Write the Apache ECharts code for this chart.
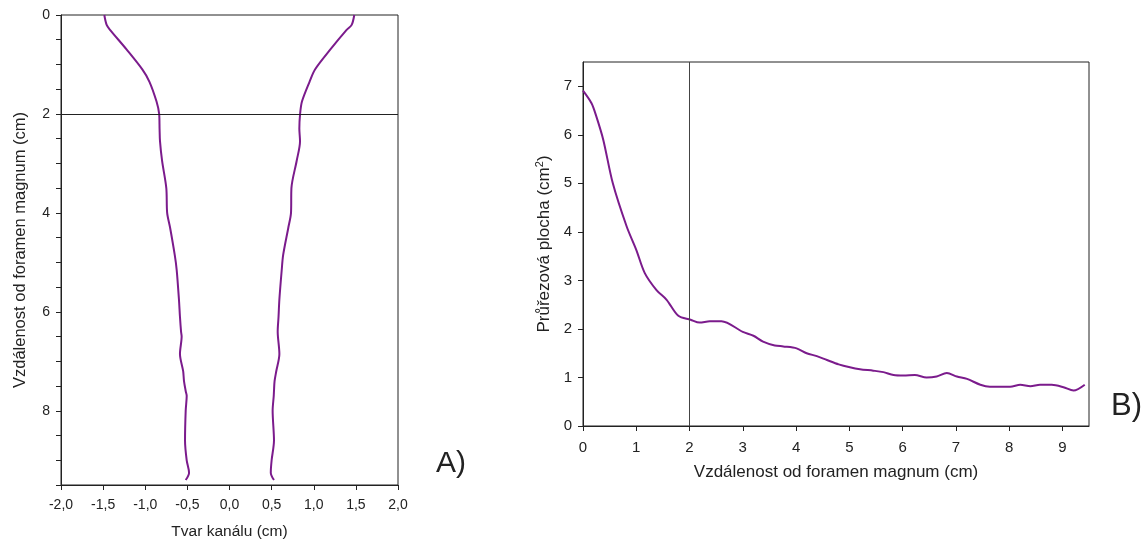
<!DOCTYPE html>
<html>
<head>
<meta charset="utf-8">
<script src="https://cdn.jsdelivr.net/npm/echarts@6/dist/echarts.min.js"></script>
<style>
  html, body { margin: 0; padding: 0; background: #fff; }
  #chart { width: 1147px; height: 540px; }
</style>
</head>
<body>
<div id="chart"></div>
<script>
// A) tvar kanálu - hloubka (cm) a levý / pravý okraj (cm)
var depthA = [0, 0.2, 0.3, 0.7, 1.1, 1.35, 1.75, 2.0, 2.3, 2.55, 2.95, 3.5, 4.0, 4.3, 4.85, 5.15, 5.75, 6.1, 6.4, 6.5, 6.85, 7.2, 7.4, 7.6, 7.7, 8.0, 8.6, 9.0, 9.25, 9.4];
var leftA = [-1.486, -1.458, -1.418, -1.22, -1.035, -0.95, -0.866, -0.835, -0.83, -0.825, -0.8, -0.75, -0.74, -0.705, -0.65, -0.627, -0.6, -0.588, -0.575, -0.568, -0.588, -0.55, -0.54, -0.52, -0.508, -0.52, -0.528, -0.508, -0.48, -0.52];
var rightA = [1.481, 1.45, 1.39, 1.195, 1.015, 0.95, 0.86, 0.838, 0.829, 0.837, 0.797, 0.735, 0.73, 0.698, 0.637, 0.62, 0.592, 0.582, 0.572, 0.575, 0.592, 0.555, 0.535, 0.528, 0.525, 0.512, 0.528, 0.5, 0.49, 0.528];

// B) průřezová plocha podle vzdálenosti
var distB = [0, 0.16, 0.25, 0.38, 0.56, 0.82, 1.0, 1.16, 1.38, 1.57, 1.79, 2.02, 2.19, 2.38, 2.6, 3.0, 3.2, 3.38, 3.6, 3.76, 4.01, 4.2, 4.39, 4.58, 4.8, 5.01, 5.2, 5.45, 5.64, 5.83, 6.02, 6.23, 6.45, 6.64, 6.83, 7.02, 7.21, 7.46, 7.64, 8.02, 8.21, 8.4, 8.58, 8.8, 9.02, 9.21, 9.42];
var areaB = [6.91, 6.65, 6.38, 5.9, 5.0, 4.11, 3.63, 3.15, 2.8, 2.6, 2.27, 2.19, 2.13, 2.16, 2.16, 1.94, 1.86, 1.74, 1.66, 1.64, 1.6, 1.5, 1.44, 1.36, 1.27, 1.21, 1.17, 1.14, 1.11, 1.05, 1.04, 1.05, 1.0, 1.02, 1.09, 1.02, 0.97, 0.85, 0.81, 0.81, 0.85, 0.82, 0.85, 0.85, 0.8, 0.73, 0.85];

// tick labels
var ticksXB = [0, 1, 2, 3, 4, 5, 6, 7, 8, 9];
var ticksYB = [0, 1, 2, 3, 4, 5, 6, 7];

var lineColor = '#7b1b8c';
var axisColor = '#222';
var font = 'Liberation Sans, Arial, sans-serif';

function pairs(xs, ys) {
    var out = [];
    for (var i = 0; i < xs.length; i++) out.push([xs[i], ys[i]]);
    return out;
}

var myChart = echarts.init(document.getElementById('chart'));
var axisLine = { show: true, onZero: false, lineStyle: { color: axisColor, width: 1 } };
var tick = { show: true, inside: false, length: 5, lineStyle: { color: axisColor } };
var label = { color: axisColor, fontFamily: font };

var option = {
    animation: false,
    backgroundColor: '#fff',
    textStyle: { fontFamily: font },
    grid: [
        { left: 61, top: 15, width: 337, height: 470, outerBoundsMode: 'none', containLabel: false, show: true, borderColor: axisColor, borderWidth: 1 },
        { left: 583, top: 62, width: 506, height: 364, outerBoundsMode: 'none', containLabel: false, show: true, borderColor: axisColor, borderWidth: 1 }
    ],
    xAxis: [
        {
            gridIndex: 0, type: 'value', min: -2, max: 2, interval: 0.5,
            axisLine: axisLine, axisTick: tick, splitLine: { show: false },
            axisLabel: Object.assign({}, label, {
                fontSize: 14, margin: 13,
                formatter: function (v) { return v.toFixed(1).replace('.', ','); }
            }),
            name: 'Tvar kanálu (cm)', nameLocation: 'middle', nameGap: 39,
            nameTextStyle: { color: axisColor, fontSize: 15.5, fontFamily: font }
        },
        {
            gridIndex: 1, type: 'value', min: 0, max: 9.5,
            axisLine: axisLine,
            axisTick: Object.assign({}, tick, { customValues: ticksXB }),
            splitLine: { show: false },
            axisLabel: Object.assign({}, label, { fontSize: 15, margin: 14, customValues: ticksXB }),
            name: 'Vzdálenost od foramen magnum (cm)', nameLocation: 'middle', nameGap: 38,
            nameTextStyle: { color: axisColor, fontSize: 17, fontFamily: font }
        }
    ],
    yAxis: [
        {
            gridIndex: 0, type: 'value', min: 0, max: 9.5, interval: 0.5, inverse: true,
            axisLine: axisLine, axisTick: tick, splitLine: { show: false },
            axisLabel: Object.assign({}, label, {
                fontSize: 14, margin: 11,
                formatter: function (v) { return v % 2 === 0 ? String(v) : ''; }
            }),
            name: 'Vzdálenost od foramen magnum (cm)', nameLocation: 'middle', nameGap: 32,
            nameTextStyle: { color: axisColor, fontSize: 16.5, fontFamily: font }
        },
        {
            gridIndex: 1, type: 'value', min: 0, max: 7.5,
            axisLine: axisLine,
            axisTick: Object.assign({}, tick, { customValues: ticksYB }),
            splitLine: { show: false },
            axisLabel: Object.assign({}, label, { fontSize: 15, margin: 11, customValues: ticksYB }),
            name: 'Průřezová plocha (cm{sup|2})', nameLocation: 'middle', nameGap: 29,
            nameTextStyle: {
                color: axisColor, fontSize: 17, fontFamily: font,
                rich: { sup: { fontSize: 11, verticalAlign: 'top', padding: [0, 0, 9, 0], color: axisColor, fontFamily: font } }
            }
        }
    ],
    series: [
        {
            type: 'line', xAxisIndex: 0, yAxisIndex: 0, smooth: 0.3,
            showSymbol: false, lineStyle: { color: lineColor, width: 2 },
            data: pairs(leftA, depthA),
            markLine: {
                silent: true, symbol: 'none', label: { show: false },
                lineStyle: { color: axisColor, width: 1, type: 'solid' },
                data: [{ yAxis: 2 }]
            }
        },
        {
            type: 'line', xAxisIndex: 0, yAxisIndex: 0, smooth: 0.3,
            showSymbol: false, lineStyle: { color: lineColor, width: 2 },
            data: pairs(rightA, depthA)
        },
        {
            type: 'line', xAxisIndex: 1, yAxisIndex: 1, smooth: 0.3,
            showSymbol: false, lineStyle: { color: lineColor, width: 2 },
            data: pairs(distB, areaB),
            markLine: {
                silent: true, symbol: 'none', label: { show: false },
                lineStyle: { color: '#444', width: 1, type: 'solid' },
                data: [{ xAxis: 2 }]
            }
        }
    ],
    graphic: [
        { type: 'text', left: 436, top: 449, style: { text: 'A)', fontSize: 30, fill: axisColor, fontFamily: font } },
        { type: 'text', left: 1111, top: 391, style: { text: 'B)', fontSize: 31, fill: axisColor, fontFamily: font } }
    ]
};

myChart.setOption(option);
window.addEventListener('resize', function () {
    myChart.resize();
});
</script>
</body>
</html>
